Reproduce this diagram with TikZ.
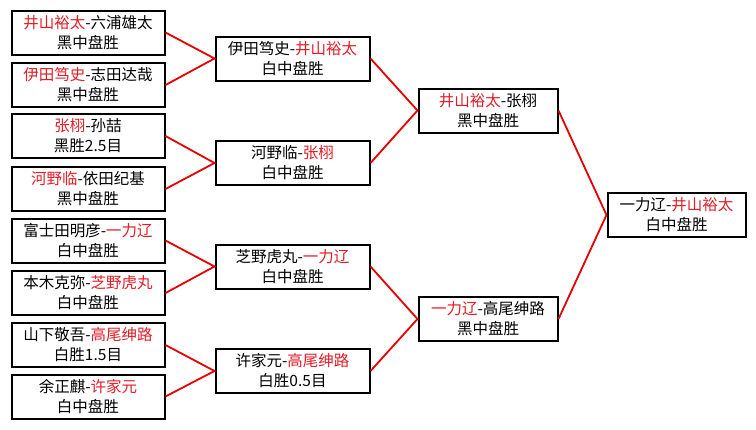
\documentclass[tikz,border=0pt]{standalone}
\usepackage{fontspec}
\setmainfont{Noto Sans CJK SC}
\definecolor{winred}{RGB}{225,30,40}
\definecolor{linkred}{RGB}{230,0,0}
\newcommand{\wn}[1]{\textcolor{winred}{#1}}
\tikzset{
  game/.style={draw=black, line width=2pt, fill=white, align=center, inner sep=0pt,
    minimum height=44pt, font=\fontsize{15.5}{20}\selectfont},
  link/.style={draw=linkred, line width=1.8pt}
}
\begin{document}
\begin{tikzpicture}[x=1pt,y=-1pt]
    \useasboundingbox[fill=white] (0,0) rectangle (756,429);
    \node[game, minimum width=153pt] (r1a) at (88,32.5) {\wn{井山裕太}-六浦雄太\\黑中盘胜};
    \node[game, minimum width=153pt] (r1b) at (88,85) {\wn{伊田笃史}-志田达哉\\黑中盘胜};
    \node[game, minimum width=153pt] (r1c) at (88,136) {\wn{张栩}-孙喆\\黑胜2.5目};
    \node[game, minimum width=153pt] (r1d) at (88,189) {\wn{河野临}-依田纪基\\黑中盘胜};
    \node[game, minimum width=153pt] (r1e) at (88,240.5) {富士田明彦-\wn{一力辽}\\白中盘胜};
    \node[game, minimum width=153pt] (r1f) at (88,293) {本木克弥-\wn{芝野虎丸}\\白中盘胜};
    \node[game, minimum width=153pt] (r1g) at (88,345) {山下敬吾-\wn{高尾绅路}\\白胜1.5目};
    \node[game, minimum width=153pt] (r1h) at (88,396.5) {余正麒-\wn{许家元}\\白中盘胜};
    \node[game, minimum width=154pt] (r2a) at (292.5,58.5) {伊田笃史-\wn{井山裕太}\\白中盘胜};
    \node[game, minimum width=154pt] (r2b) at (292.5,163) {河野临-\wn{张栩}\\白中盘胜};
    \node[game, minimum width=154pt] (r2c) at (292.5,266.5) {芝野虎丸-\wn{一力辽}\\白中盘胜};
    \node[game, minimum width=154pt] (r2d) at (292.5,371) {许家元-\wn{高尾绅路}\\白胜0.5目};
    \node[game, minimum width=139pt] (r3a) at (488,110.5) {\wn{井山裕太}-张栩\\黑中盘胜};
    \node[game, minimum width=139pt] (r3b) at (488,319) {\wn{一力辽}-高尾绅路\\黑中盘胜};
    \node[game, minimum width=138pt] (fin) at (676.5,215) {一力辽-\wn{井山裕太}\\白中盘胜};
    \draw[link] (r1a.east) -- (r2a.west) -- (r1b.east);
    \draw[link] (r1c.east) -- (r2b.west) -- (r1d.east);
    \draw[link] (r1e.east) -- (r2c.west) -- (r1f.east);
    \draw[link] (r1g.east) -- (r2d.west) -- (r1h.east);
    \draw[link] (r2a.east) -- (r3a.west) -- (r2b.east);
    \draw[link] (r2c.east) -- (r3b.west) -- (r2d.east);
    \draw[link] (r3a.east) -- (fin.west) -- (r3b.east);
\end{tikzpicture}
\end{document}
